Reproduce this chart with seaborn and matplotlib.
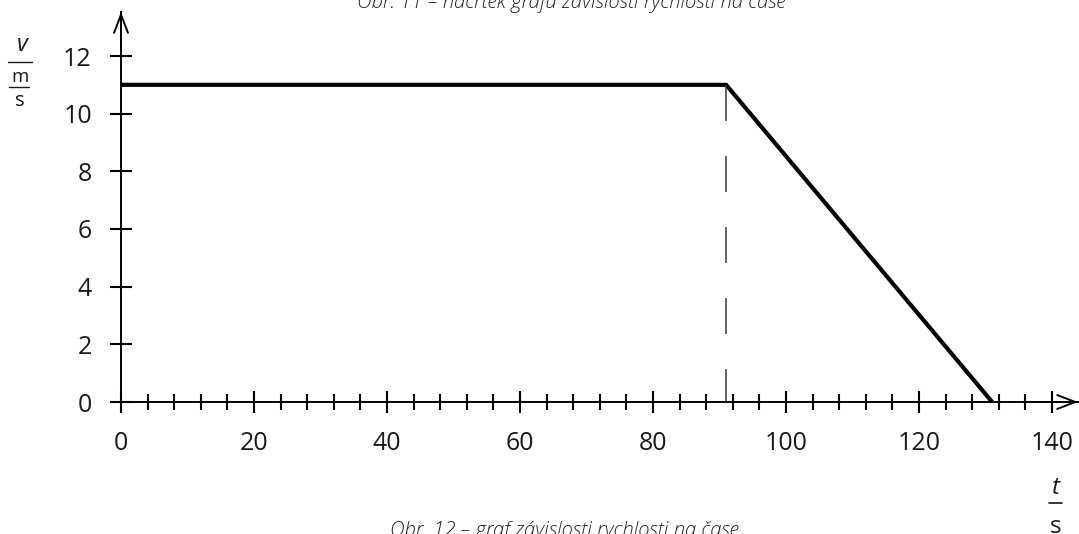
import matplotlib
matplotlib.use("Agg")
import matplotlib.pyplot as plt
from matplotlib.lines import Line2D
from matplotlib.ticker import MultipleLocator
import seaborn as sns
import pandas as pd

# v(t): constant speed, then uniform braking to a stop
time_s = [0, 91, 131]
speed_ms = [11, 11, 0]
brake_start = 91
x_ticks = [0, 20, 40, 60, 80, 100, 120, 140]
y_ticks = [0, 2, 4, 6, 8, 10, 12]
caption_top = "Obr. 11 – náčrtek grafu závislosti rychlosti na čase"
caption_bottom = "Obr. 12 – graf závislosti rychlosti na čase"

sns.set_theme(style="white")
plt.rcParams["font.family"] = ["Open Sans", "DejaVu Sans"]

W, H = 1079, 534
fig = plt.figure(figsize=(W / 100, H / 100), dpi=100)


def fx(px):
    return px / W


def fy(py):
    return 1 - py / H


left, right, top, bottom = 121, 1078, 12, 402
ax = fig.add_axes([fx(left), fy(bottom), fx(right - left), (bottom - top) / H])

df = pd.DataFrame({"t": time_s, "v": speed_ms})
sns.lineplot(data=df, x="t", y="v", ax=ax, color="black", linewidth=3.0,
             estimator=None, sort=False, solid_capstyle="butt", clip_on=False)
ax.plot([brake_start, brake_start], [speed_ms[1], 0], color="#3a3a3a",
        linewidth=1.1, dashes=(23.5, 23), clip_on=False)

ax.set_xlim(0, (right - left) / ((1052 - 121) / 140))
ax.set_ylim(0, (bottom - top) / ((402 - 56) / 12))
ax.set_xticks(x_ticks)
ax.set_yticks(y_ticks)
ax.xaxis.set_minor_locator(MultipleLocator(4))
ax.set_xlabel("")
ax.set_ylabel("")

for side in ("top", "right"):
    ax.spines[side].set_visible(False)
for side in ("left", "bottom"):
    ax.spines[side].set_color("black")
    ax.spines[side].set_linewidth(1.4)

ax.tick_params(axis="both", which="major", direction="inout", length=16,
               width=1.5, color="black", labelsize=18, pad=13,
               labelcolor="#1a1a1a")
ax.tick_params(axis="x", which="minor", direction="inout", length=11.5,
               width=1.5, color="black")
ax.tick_params(axis="both", which="both", bottom=True, left=True)

# open arrowheads at the ends of both axes
arrow_kw = dict(arrowstyle="->,head_length=1.3,head_width=0.5",
                color="black", lw=1.4, mutation_scale=10, shrinkA=0, shrinkB=0)
ax.annotate("", xy=(0, 1), xytext=(0, 0.9), xycoords="axes fraction",
            textcoords="axes fraction", arrowprops=arrow_kw)
ax.annotate("", xy=(1, 0), xytext=(0.95, 0), xycoords="axes fraction",
            textcoords="axes fraction", arrowprops=arrow_kw)

# quantity / unit labels
tc = "#1a1a1a"
fig.text(fx(22), fy(51), "v", fontsize=17, style="italic", ha="center",
         va="baseline", color=tc)
fig.add_artist(Line2D([fx(8), fx(32)], [fy(62), fy(62)], color=tc, lw=1.0))
fig.text(fx(20), fy(82), "m", fontsize=13.5, ha="center", va="baseline", color=tc)
fig.add_artist(Line2D([fx(9), fx(29)], [fy(87), fy(87)], color=tc, lw=1.0))
fig.text(fx(20), fy(106), "s", fontsize=14.5, ha="center", va="baseline", color=tc)

fig.text(fx(1056), fy(494), "t", fontsize=17.5, style="italic", ha="center",
         va="baseline", color=tc)
fig.add_artist(Line2D([fx(1049), fx(1062)], [fy(503), fy(503)], color=tc, lw=1.2))
fig.text(fx(1056), fy(533), "s", fontsize=17.5, ha="center", va="baseline", color=tc)

# figure captions
fig.text(fx(571), fy(8), caption_top, fontsize=14.6, style="italic",
         fontweight="light", ha="center", va="baseline", color="#222222")
fig.text(fx(564), fy(536), caption_bottom, fontsize=14.6, style="italic",
         fontweight="light", ha="center", va="baseline", color="#222222")

fig.savefig("out.png", dpi=100)
